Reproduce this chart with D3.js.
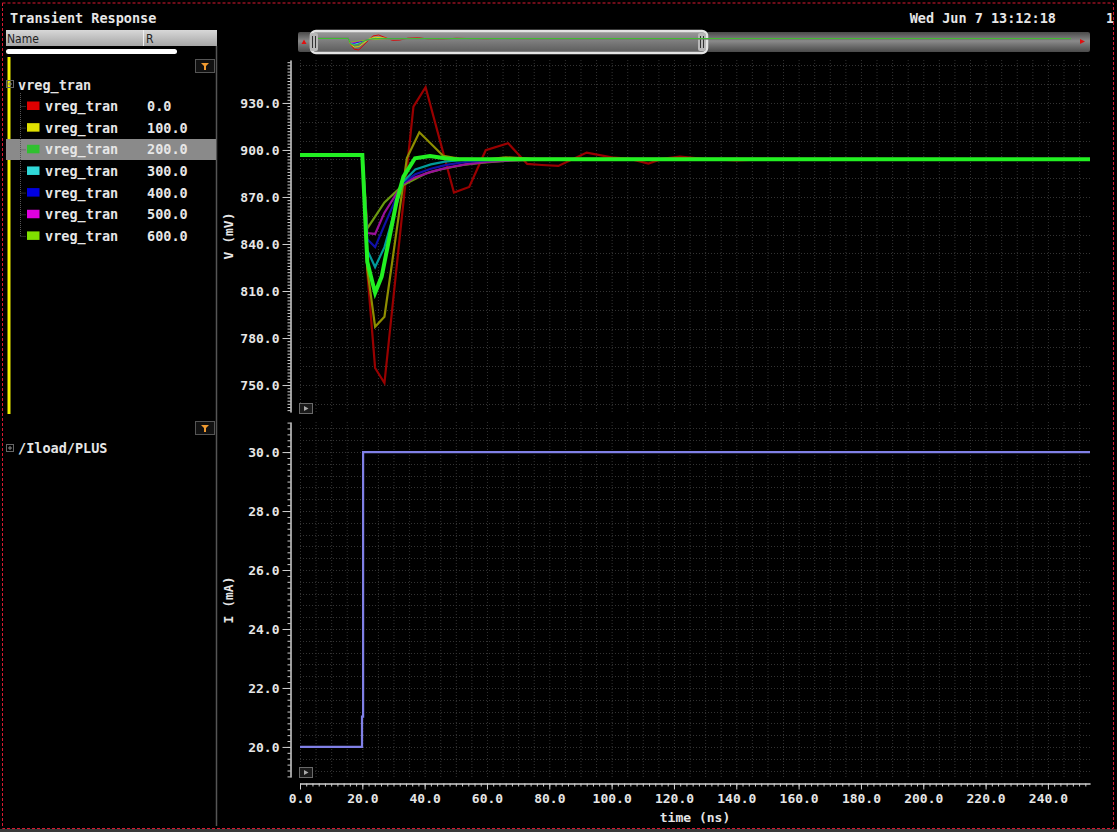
<!DOCTYPE html>
<html><head><meta charset="utf-8">
<script src="https://cdn.jsdelivr.net/npm/d3@7"></script>
<style>
html,body{margin:0;padding:0;background:#000;overflow:hidden;}
svg{display:block;}
text{font-family:"DejaVu Sans Mono",monospace;font-weight:bold;fill:#e6e6e6;}
</style></head><body>
<svg id="c" width="1117" height="832"></svg>
<script>
// ---------- DATA ----------
const seriesNames = ["vreg_tran","vreg_tran","vreg_tran","vreg_tran","vreg_tran","vreg_tran","vreg_tran"];
const rValues = ["0.0","100.0","200.0","300.0","400.0","500.0","600.0"];
const swatchColors = ["#e00000","#e0e000","#30c030","#30d8d8","#0000e0","#e000e0","#80e000"];
const lineColors = ["#990000","#8e8e00","#22f022","#009a9a","#1010a8","#9a109a","#6a9a10"];
const selectedIndex = 2;

// [time (ns), V (mV)]
const v_r0 = [[0,896.8],[20,896.8],[21.6,822],[24.1,760.9],[27.1,751.3],[36.4,927.6],[40.3,940.0],[49.4,872.8],[54.3,876.4],[59.6,899.8],[66.8,904.3],[72.9,891.1],[77.6,890.4],[82.9,889.8],[92.0,898.3],[100.0,895.3],[105.9,894.3],[111.8,891.3],[116.1,894.3],[121.9,895.7],[129.4,894.3],[140.1,893.3],[150,894.1],[500,894.1]];
const v_r100 = [[0,896.8],[20,896.8],[21.6,824],[24.1,787.2],[27.1,793.6],[34.3,894.9],[38.3,911.3],[46.0,896.2],[51,894.5],[60,894.0],[66,895.3],[75,894.3],[500,894.1]];
const v_r200 = [[0,896.8],[20,896.8],[21.6,828.5],[24.1,808.8],[26.2,819.2],[31.1,868.1],[33.2,883.0],[36.9,894.7],[41.7,896.2],[46.5,894.7],[49.7,894.1],[500,894.1]];
const v_r300 = [[0,896.8],[20,896.8],[21.6,836],[24.1,825.3],[27.1,838],[33,879.5],[37,887.6],[42,890.8],[46.5,892.5],[52,893.6],[60,894.1],[500,894.1]];
const v_r400 = [[0,896.8],[20,896.8],[21.6,843],[24.1,838],[27.1,852],[33,879],[37,884.5],[42,888],[47,890.5],[53,892.3],[60,893.4],[70,894.0],[500,894.1]];
const v_r500 = [[0,896.8],[20,896.8],[21.6,847],[24.1,846.4],[27.1,860],[33,878.5],[37,882.5],[42,886],[47,888.6],[53,890.8],[60,892.4],[70,893.5],[80,894.0],[500,894.1]];
const v_r600 = [[0,896.8],[20,896.8],[21.6,850],[24.1,857.5],[27.1,866.5],[33,877.5],[40.5,885.1],[45.3,887.7],[52.3,890.4],[58.7,891.9],[67.4,893.3],[80,894.0],[500,894.1]];
const vSeries = [v_r0,v_r100,v_r200,v_r300,v_r400,v_r500,v_r600];

// [time (ns), I (mA)]
const iLoad = [[0,20],[19.9,20],[19.9,21.03],[20.25,21.03],[20.25,30],[500,30]];

const vTicks = [750,780,810,840,870,900,930];
const iTicks = [20,22,24,26,28,30];
const xTicks = [0,20,40,60,80,100,120,140,160,180,200,220,240];
const titleText = "Transient Response";
const dateText = "Wed Jun 7 13:12:18";

// ---------- LAYOUT ----------
const svg = d3.select("#c");
const X0 = 300, X1 = 1090;
const x = d3.scaleLinear([0,253.5],[X0,X1]);
const yV = d3.scaleLinear([732.8,957.4],[412,60]);
const yI = d3.scaleLinear([18.98,31.02],[777,422]);
const fmt = d3.format(".1f");

const defs = svg.append("defs");
defs.append("clipPath").attr("id","clipV").append("rect").attr("x",X0-2).attr("y",60).attr("width",X1-X0+2).attr("height",352);
defs.append("clipPath").attr("id","clipI").append("rect").attr("x",X0-2).attr("y",422).attr("width",X1-X0+2).attr("height",355);
const g1 = defs.append("linearGradient").attr("id","hdr").attr("x1",0).attr("x2",0).attr("y1",0).attr("y2",1);
g1.append("stop").attr("offset","0%").attr("stop-color","#d8d8d8");
g1.append("stop").attr("offset","100%").attr("stop-color","#a6a6a6");
const g2 = defs.append("linearGradient").attr("id","bar").attr("x1",0).attr("x2",0).attr("y1",0).attr("y2",1);
g2.append("stop").attr("offset","0%").attr("stop-color","#4a4a4a");
g2.append("stop").attr("offset","45%").attr("stop-color","#8a8a8a");
g2.append("stop").attr("offset","100%").attr("stop-color","#4a4a4a");
const g3 = defs.append("linearGradient").attr("id","win").attr("x1",0).attr("x2",0).attr("y1",0).attr("y2",1);
g3.append("stop").attr("offset","0%").attr("stop-color","#9c9c9c");
g3.append("stop").attr("offset","50%").attr("stop-color","#7a7a7a");
g3.append("stop").attr("offset","100%").attr("stop-color","#5a5a5a");

svg.append("rect").attr("width",1117).attr("height",832).attr("fill","#000");
svg.append("rect").attr("x",0).attr("y",829).attr("width",1117).attr("height",3).attr("fill","#3a3a3a");

// ---------- HEADER ----------
svg.append("text").attr("x",10).attr("y",23).attr("font-size",13.5).text(titleText);
svg.append("text").attr("x",1056).attr("y",23).attr("font-size",13.5).attr("text-anchor","end").text(dateText);
svg.append("text").attr("x",1106).attr("y",23).attr("font-size",13.5).text("1");

// ---------- LEFT PANEL ----------
svg.append("rect").attr("x",6).attr("y",30).attr("width",211).attr("height",16).attr("fill","url(#hdr)");
svg.append("line").attr("x1",143.5).attr("x2",143.5).attr("y1",30).attr("y2",46).attr("stroke","#eee").attr("stroke-width",1);
svg.append("text").attr("x",7).attr("y",43).attr("font-size",12).style("font-family","'DejaVu Sans Condensed','DejaVu Sans',sans-serif").style("font-weight","normal").style("fill","#222").text("Name");
svg.append("text").attr("x",146).attr("y",43).attr("font-size",12).style("font-family","'DejaVu Sans Condensed','DejaVu Sans',sans-serif").style("font-weight","normal").style("fill","#222").text("R");
svg.append("rect").attr("x",6).attr("y",49).attr("width",171).attr("height",5).attr("rx",2.5).attr("fill","#fff");
svg.append("line").attr("x1",216.5).attr("x2",216.5).attr("y1",46).attr("y2",826).attr("stroke","#555").attr("stroke-width",1.5);
svg.append("rect").attr("x",7.5).attr("y",57).attr("width",3).attr("height",357).attr("fill","#f0f000");

function filterBtn(yTop){
  svg.append("rect").attr("x",195.5).attr("y",yTop+0.5).attr("width",19).attr("height",13).attr("fill","#111").attr("stroke","#555");
  const cx=205, cy=yTop+7;
  svg.append("path").attr("d",`M${cx-4},${cy-3}H${cx+4}L${cx+1},${cy}V${cy+4}H${cx-1}V${cy}Z`).attr("fill","#f09a30");
}
filterBtn(59);
filterBtn(421);

function expandIcon(cx,cy){
  svg.append("rect").attr("x",cx-3.5).attr("y",cy-3.5).attr("width",7).attr("height",7).attr("fill","none").attr("stroke","#666");
  svg.append("path").attr("d",`M${cx-2},${cy}H${cx+2}M${cx},${cy-2}V${cy+2}`).attr("stroke","#888");
}
expandIcon(10,84);
svg.append("text").attr("x",18).attr("y",90).attr("font-size",13.5).text("vreg_tran");

const rowY = d3.range(7).map(i => 106 + i*21.65);
svg.append("rect").attr("x",6).attr("y",139).attr("width",210).attr("height",21).attr("fill","#8a8a8a");
svg.append("line").attr("x1",20.5).attr("x2",20.5).attr("y1",93).attr("y2",rowY[6]).attr("stroke","#555").attr("stroke-dasharray","1,1");
rowY.forEach((yy,i)=>{
  svg.append("line").attr("x1",20.5).attr("x2",26).attr("y1",yy+0.5).attr("y2",yy+0.5).attr("stroke","#555").attr("stroke-dasharray","1,1");
  svg.append("rect").attr("x",27).attr("y",yy-4.5).attr("width",12.5).attr("height",8.5).attr("fill",swatchColors[i]);
  svg.append("text").attr("x",45).attr("y",yy+5).attr("font-size",13.5).text(seriesNames[i]);
  svg.append("text").attr("x",147).attr("y",yy+5).attr("font-size",13.5).text(rValues[i]);
});
expandIcon(10,448);
svg.append("text").attr("x",18).attr("y",453).attr("font-size",13.5).text("/Iload/PLUS");

// ---------- MINIMAP ----------
svg.append("rect").attr("x",298).attr("y",32).attr("width",792).attr("height",20).attr("rx",2).attr("fill","url(#bar)");
svg.append("rect").attr("x",311).attr("y",31).attr("width",396).attr("height",22).attr("rx",5).attr("fill","url(#win)").attr("stroke","#e4e4e4").attr("stroke-width",2.5);
[[314,1],[702,1]].forEach(([hx])=>{
  svg.append("rect").attr("x",hx-4).attr("y",33).attr("width",8).attr("height",18).attr("rx",2).attr("fill","#b8b8b8");
  svg.append("path").attr("d",`M${hx-1.5},36V48M${hx+1.5},36V48`).attr("stroke","#333").attr("stroke-width",1);
});
svg.append("path").attr("d","M301.5,44L304,39.5L306.5,44Z").attr("fill","#e01010");
svg.append("path").attr("d","M1080,39L1085,41.5L1080,44Z").attr("fill","#e01010");
const xm = d3.scaleLinear([0,500],[318,1071]);
const ym = d3.scaleLinear([751,940],[50,35]);
const lineM = d3.line().x(d=>xm(d[0])).y(d=>ym(d[1]));
const miniOrder = [0,1,3,4,5,6,2];
miniOrder.forEach(i=>{
  svg.append("path").datum(vSeries[i]).attr("d",lineM).attr("fill","none")
    .attr("stroke", i===6 ? "#80c020" : swatchColors[i]).attr("stroke-width",1).attr("opacity",0.95);
});

// ---------- GRIDS ----------
const gridG = svg.append("g").attr("stroke","#333").attr("stroke-dasharray","1,2").attr("stroke-width",1);
d3.range(0,251,5).forEach(t=>{
  gridG.append("line").attr("x1",x(t)+0.5).attr("x2",x(t)+0.5).attr("y1",60).attr("y2",412);
  gridG.append("line").attr("x1",x(t)+0.5).attr("x2",x(t)+0.5).attr("y1",422).attr("y2",777);
});
d3.range(738,957,12).forEach(v=>{
  gridG.append("line").attr("x1",X0).attr("x2",X1).attr("y1",Math.round(yV(v))+0.5).attr("y2",Math.round(yV(v))+0.5);
});
d3.range(19.2,30.9,0.4).forEach(v=>{
  gridG.append("line").attr("x1",X0).attr("x2",X1).attr("y1",Math.round(yI(v))+0.5).attr("y2",Math.round(yI(v))+0.5);
});

// ---------- AXES ----------
function styleAxis(g){
  g.selectAll("path.domain").attr("stroke","#cfcfcf");
  g.selectAll(".tick line").attr("stroke","#cfcfcf");
  g.selectAll("text").attr("fill","#e6e6e6").attr("font-size",13).style("font-family","'DejaVu Sans Mono',monospace").style("font-weight","bold");
}
// V axis
const gVm = svg.append("g").attr("transform","translate(290.5,0)")
  .call(d3.axisLeft(yV).tickValues(d3.range(734,957,2)).tickSize(3).tickSizeOuter(0).tickFormat(""));
styleAxis(gVm);
const gV = svg.append("g").attr("transform","translate(290.5,0)")
  .call(d3.axisLeft(yV).tickValues(vTicks).tickSize(8).tickPadding(3).tickSizeOuter(0).tickFormat(fmt));
styleAxis(gV);
// I axis
const gIm = svg.append("g").attr("transform","translate(290.5,0)")
  .call(d3.axisLeft(yI).tickValues(d3.range(19.0,31.01,0.2)).tickSize(3).tickSizeOuter(0).tickFormat(""));
styleAxis(gIm);
const gI = svg.append("g").attr("transform","translate(290.5,0)")
  .call(d3.axisLeft(yI).tickValues(iTicks).tickSize(8).tickPadding(3).tickSizeOuter(0).tickFormat(fmt));
styleAxis(gI);
// X axis
const gXm = svg.append("g").attr("transform","translate(0,783.5)")
  .call(d3.axisBottom(x).tickValues(d3.range(0,253.5,2)).tickSize(3).tickSizeOuter(0).tickFormat(""));
styleAxis(gXm);
const gX = svg.append("g").attr("transform","translate(0,783.5)")
  .call(d3.axisBottom(x).tickValues(xTicks).tickSize(6).tickPadding(4).tickSizeOuter(0).tickFormat(fmt));
styleAxis(gX);

svg.append("text").attr("transform","translate(233,236) rotate(-90)").attr("text-anchor","middle").attr("font-size",13).text("V (mV)");
svg.append("text").attr("transform","translate(233,600) rotate(-90)").attr("text-anchor","middle").attr("font-size",13).text("I (mA)");
svg.append("text").attr("x",695).attr("y",822).attr("text-anchor","middle").attr("font-size",13).text("time (ns)");

// ---------- LINES ----------
const lineV = d3.line().x(d=>x(d[0])).y(d=>yV(d[1]));
const lineI = d3.line().x(d=>x(d[0])).y(d=>yI(d[1]));
const gLinesV = svg.append("g").attr("clip-path","url(#clipV)");
const order = [0,1,6,5,4,3,2];
order.forEach(i=>{
  gLinesV.append("path").datum(vSeries[i]).attr("d",lineV).attr("fill","none")
    .attr("stroke",lineColors[i]).attr("stroke-width", i===selectedIndex ? 4 : 2.2)
    .attr("stroke-linejoin","miter");
});
svg.append("g").attr("clip-path","url(#clipI)").append("path").datum(iLoad).attr("d",lineI)
  .attr("fill","none").attr("stroke","#8080e6").attr("stroke-width",2.2);

// play buttons
function playBtn(x0,y0){
  svg.append("rect").attr("x",x0+0.5).attr("y",y0+0.5).attr("width",13).attr("height",10).attr("fill","#1a1a1a").attr("stroke","#6a6a6a");
  svg.append("path").attr("d",`M${x0+5},${y0+3}L${x0+9.5},${y0+5.5}L${x0+5},${y0+8}Z`).attr("fill","#aaa");
}
playBtn(299,403);
playBtn(299,767);

// ---------- BORDER ----------
svg.append("rect").attr("x",2.5).attr("y",3).attr("width",1111).attr("height",825.5).attr("fill","none")
  .attr("stroke","#d81830").attr("stroke-width",1).attr("stroke-dasharray","3,2");
</script>
</body></html>
